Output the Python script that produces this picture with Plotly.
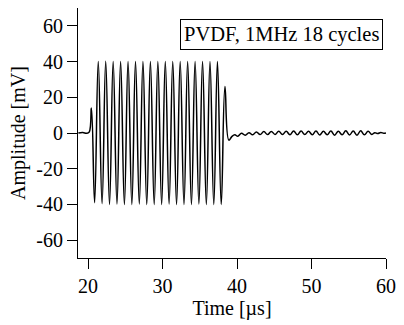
import plotly.graph_objects as go

# Signal: time [µs] and amplitude [mV] at key points
time_us = [18.7, 19.3, 19.8, 20.15, 20.45, 20.88,
           21.37, 21.88, 22.37, 22.88, 23.37, 23.88, 24.37, 24.88,
           25.37, 25.88, 26.37, 26.88, 27.37, 27.88, 28.37, 28.88,
           29.37, 29.88, 30.37, 30.88, 31.37, 31.88, 32.37, 32.88,
           33.37, 33.88, 34.37, 34.88, 35.37, 35.88, 36.37, 36.88,
           37.37, 37.88, 38.38, 38.9,
           39.3, 39.7, 40.1, 40.6, 41.1, 41.6, 42.1, 42.6, 43.1, 43.6,
           44.1, 44.6, 45.1, 45.6, 46.1, 46.6, 47.1, 47.6, 48.1, 48.6,
           49.1, 49.6, 50.1, 50.6, 51.1, 51.6, 52.1, 52.6, 53.1, 53.6,
           54.1, 54.6, 55.1, 55.6, 56.1, 56.6, 57.1, 57.6, 58.1, 58.5,
           58.9, 59.3, 59.7, 60.0]
amplitude_mv = [0.0, 0.3, -0.2, 0.5, 14.0, -39.0,
                40.0, -39.5, 40.2, -40.0, 40.0, -39.8, 40.1, -40.0,
                40.0, -40.0, 40.0, -39.8, 40.0, -40.0, 40.0, -40.0,
                40.0, -40.0, 40.0, -39.8, 40.0, -40.0, 40.0, -40.0,
                40.0, -40.0, 40.0, -39.8, 40.0, -40.0, 40.0, -40.0,
                40.0, -40.0, 26.0, -4.0,
                -2.0, -1.0, -1.8, -0.2, -1.2, 0.2, -1.0, 0.6, -0.9, 0.8,
                -0.9, 0.9, -0.8, 1.0, -0.9, 1.0, -1.0, 1.1, -1.0, 1.1,
                -0.9, 1.0, -1.0, 1.1, -1.1, 1.0, -1.0, 1.1, -1.2, 1.0,
                -1.0, 1.2, -1.1, 1.1, -1.2, 1.2, -1.0, 1.0, -0.8, 0.2,
                -0.3, 0.3, -0.2, 0.0]

x_ticks = [20, 30, 40, 50, 60]
y_ticks = [-60, -40, -20, 0, 20, 40, 60]
y_tick_labels = ["-60", "-40", "-20", "0", "20", "40", "60"]

FONT = "Liberation Serif, Times New Roman, serif"
tick_font = dict(family=FONT, size=20, color="black")

fig = go.Figure()
fig.add_trace(go.Scatter(
    x=time_us, y=amplitude_mv, mode="lines",
    line=dict(color="black", width=1.5, shape="spline", smoothing=1.2),
    showlegend=False,
))

fig.update_layout(
    width=404, height=325,
    margin=dict(l=78, r=12, t=8, b=67),
    paper_bgcolor="white", plot_bgcolor="white",
    font=dict(family=FONT, size=20, color="black"),
    xaxis=dict(
        range=[18.65, 60], tickvals=x_ticks, tickfont=tick_font,
        ticks="outside", ticklen=10, tickwidth=1, tickcolor="black",
        showline=True, linecolor="black", linewidth=1,
        showgrid=False, zeroline=False,
        title=dict(text="Time [µs]", standoff=3, font=tick_font),
    ),
    yaxis=dict(
        range=[-70, 70], tickvals=y_ticks, ticktext=y_tick_labels,
        tickfont=tick_font,
        ticks="outside", ticklen=10, tickwidth=1, tickcolor="black",
        showline=True, linecolor="black", linewidth=1,
        showgrid=False, zeroline=False,
        title=dict(text="Amplitude [mV]", standoff=5, font=tick_font),
    ),
    annotations=[dict(
        text="PVDF, 1MHz 18 cycles", xref="paper", yref="paper",
        x=0.99, y=0.958, xanchor="right", yanchor="top",
        showarrow=False, bordercolor="black", borderwidth=1, borderpad=3,
        bgcolor="white", font=dict(family=FONT, size=20.5, color="black"),
    )],
)

fig.write_html("out.html", config={"displayModeBar": False},
               post_script="document.body.style.margin='0px';")
